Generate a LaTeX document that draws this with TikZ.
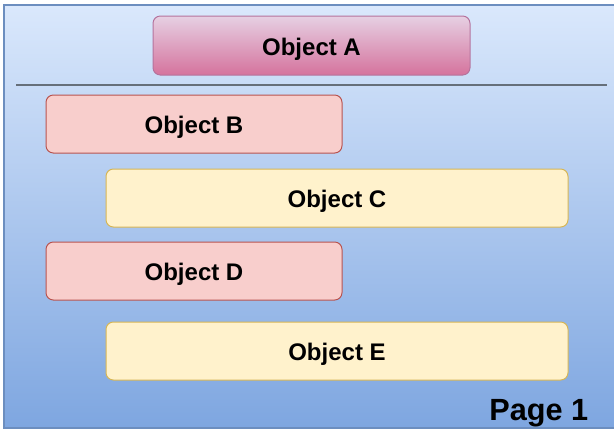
\documentclass[tikz,border=0pt]{standalone}
\usepackage{fontspec}
\setmainfont{Liberation Sans}
\definecolor{pagetop}{HTML}{DAE8FC}
\definecolor{pagebot}{HTML}{7EA6E0}
\definecolor{pageline}{HTML}{6C8EBF}
\definecolor{atop}{HTML}{E6D0E3}
\definecolor{abot}{HTML}{D5739D}
\definecolor{aline}{HTML}{B5739D}
\definecolor{redfill}{HTML}{F8CECC}
\definecolor{redline}{HTML}{B85450}
\definecolor{yelfill}{HTML}{FFF2CC}
\definecolor{yelline}{HTML}{D6B656}
\definecolor{sepline}{HTML}{666F7A}
\tikzset{
  objfont/.style={font=\fontsize{18}{21}\selectfont\bfseries,
    text height=14.4pt, text depth=0pt},
  objbox/.style={rounded corners=5.5pt, line width=0.75pt, inner sep=0pt, objfont},
  redbox/.style={objbox, draw=redline, fill=redfill},
  yelbox/.style={objbox, draw=yelline, fill=yelfill},
}
\begin{document}
\begin{tikzpicture}[x=0.75pt,y=-0.75pt]
\useasboundingbox (0,0) rectangle (614,430);
% page background
\shade[top color=pagetop, bottom color=pagebot] (4,5) rectangle (620,428);
\draw[pageline, line width=0.9pt] (620,5) -- (4,5) -- (4,428) -- (620,428);
% header object and separator
\draw[objbox, draw=aline, top color=atop, bottom color=abot] (153,16) rectangle (470,75);
\node[objfont, inner sep=0pt] (a) at (311.5,45.5) {Object A};
\coordinate (sl) at (16,85);
\coordinate (sr) at (607,85);
\draw[sepline, line width=1.5pt] (sl) -- (sr);
% rows
\node[redbox, minimum width=296*0.75pt, minimum height=58*0.75pt] (b) at (194,124) {Object B};
\node[yelbox, minimum width=462*0.75pt, minimum height=58*0.75pt] (c) at (337,198) {Object C};
\node[redbox, minimum width=296*0.75pt, minimum height=58*0.75pt] (d) at (194,271) {Object D};
\node[yelbox, minimum width=462*0.75pt, minimum height=58*0.75pt] (e) at (337,351) {Object E};
% page label
\node[anchor=east, inner sep=0pt, font=\fontsize{23}{27}\selectfont\bfseries] (p) at (588.5,413) {Page 1};
\end{tikzpicture}
\end{document}
